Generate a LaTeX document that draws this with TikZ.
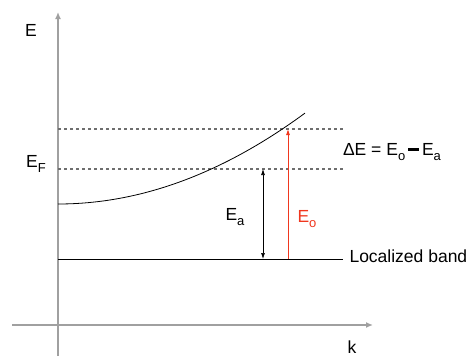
\documentclass[tikz,border=0pt]{standalone}
\usepackage{fontspec}
\setmainfont{Liberation Sans}
\usetikzlibrary{arrows.meta, positioning, calc}
\definecolor{achsgrau}{RGB}{160,160,160}
\definecolor{linggrau}{RGB}{110,110,110}
\definecolor{rotlinie}{RGB}{240,55,30}
\newcommand{\tief}[1]{\raisebox{-0.45ex}{\fontsize{13}{15}\selectfont #1}}

\begin{document}
\begin{tikzpicture}[x=1pt, y=-1pt, font=\fontsize{17.5}{21}\selectfont,
        axis/.style={draw=achsgrau, line width=1.8pt, -{Latex[length=7pt,width=6pt]}},
        level/.style={draw=linggrau, line width=1.1pt, dash pattern=on 3pt off 3pt},
        pfeil/.style={line width=0.7pt, {Latex[length=6pt,width=4pt]}-{Latex[length=6pt,width=4pt]}}]
    \useasboundingbox (0,0) rectangle (468,356);
    % axes
    \coordinate (ybot) at (58,356);
    \coordinate (ytop) at (58,12);
    \coordinate (xlft) at (12,325);
    \coordinate (xrgt) at (373,325);
    \draw[axis] (ybot) -- (ytop);
    \draw[axis] (xlft) -- (xrgt);
    \node (lblE) at (31,30) {E};
    \node (lblk) at (352,347) {k};
    % levels
    \foreach \n/\y in {top/129,ef/169,band/259}
    {
        \coordinate (\n L) at (58,\y);
        \coordinate (\n R) at (343,\y);
    }
    \draw[level] (topL) -- (topR);
    \draw[level] (efL) -- (efR);
    \draw[line width=0.8pt] (bandL) -- (bandR);
    % band curve
    \draw[line width=0.8pt] plot[domain=58:305, samples=50] (\x, {204-14.9*((\x-58)/100)^2});
    % energies
    \coordinate (eaT) at (263,169);
    \coordinate (eaB) at (263,259);
    \coordinate (eoT) at (288,129);
    \coordinate (eoB) at (288,259);
    \draw[pfeil] (eaT) -- (eaB);
    \draw[rotlinie, line width=0.8pt, -{Latex[length=6pt,width=4pt]}] (eoB) -- (eoT);
    % labels
    \node (lblEF) at (36,164) {E\tief{F}};
    \node (lblEa) at (235,217) {E\tief{a}};
    \node[text=rotlinie] (lblEo) at (307,219) {E\tief{o}};
    \node (lblDE) at (392,152) {ΔE = E\tief{o}\,\rule[5pt]{11pt}{2.6pt}\,E\tief{a}};
    \node[anchor=west] (lblband) at (346,256) {Localized band};
\end{tikzpicture}
\end{document}
